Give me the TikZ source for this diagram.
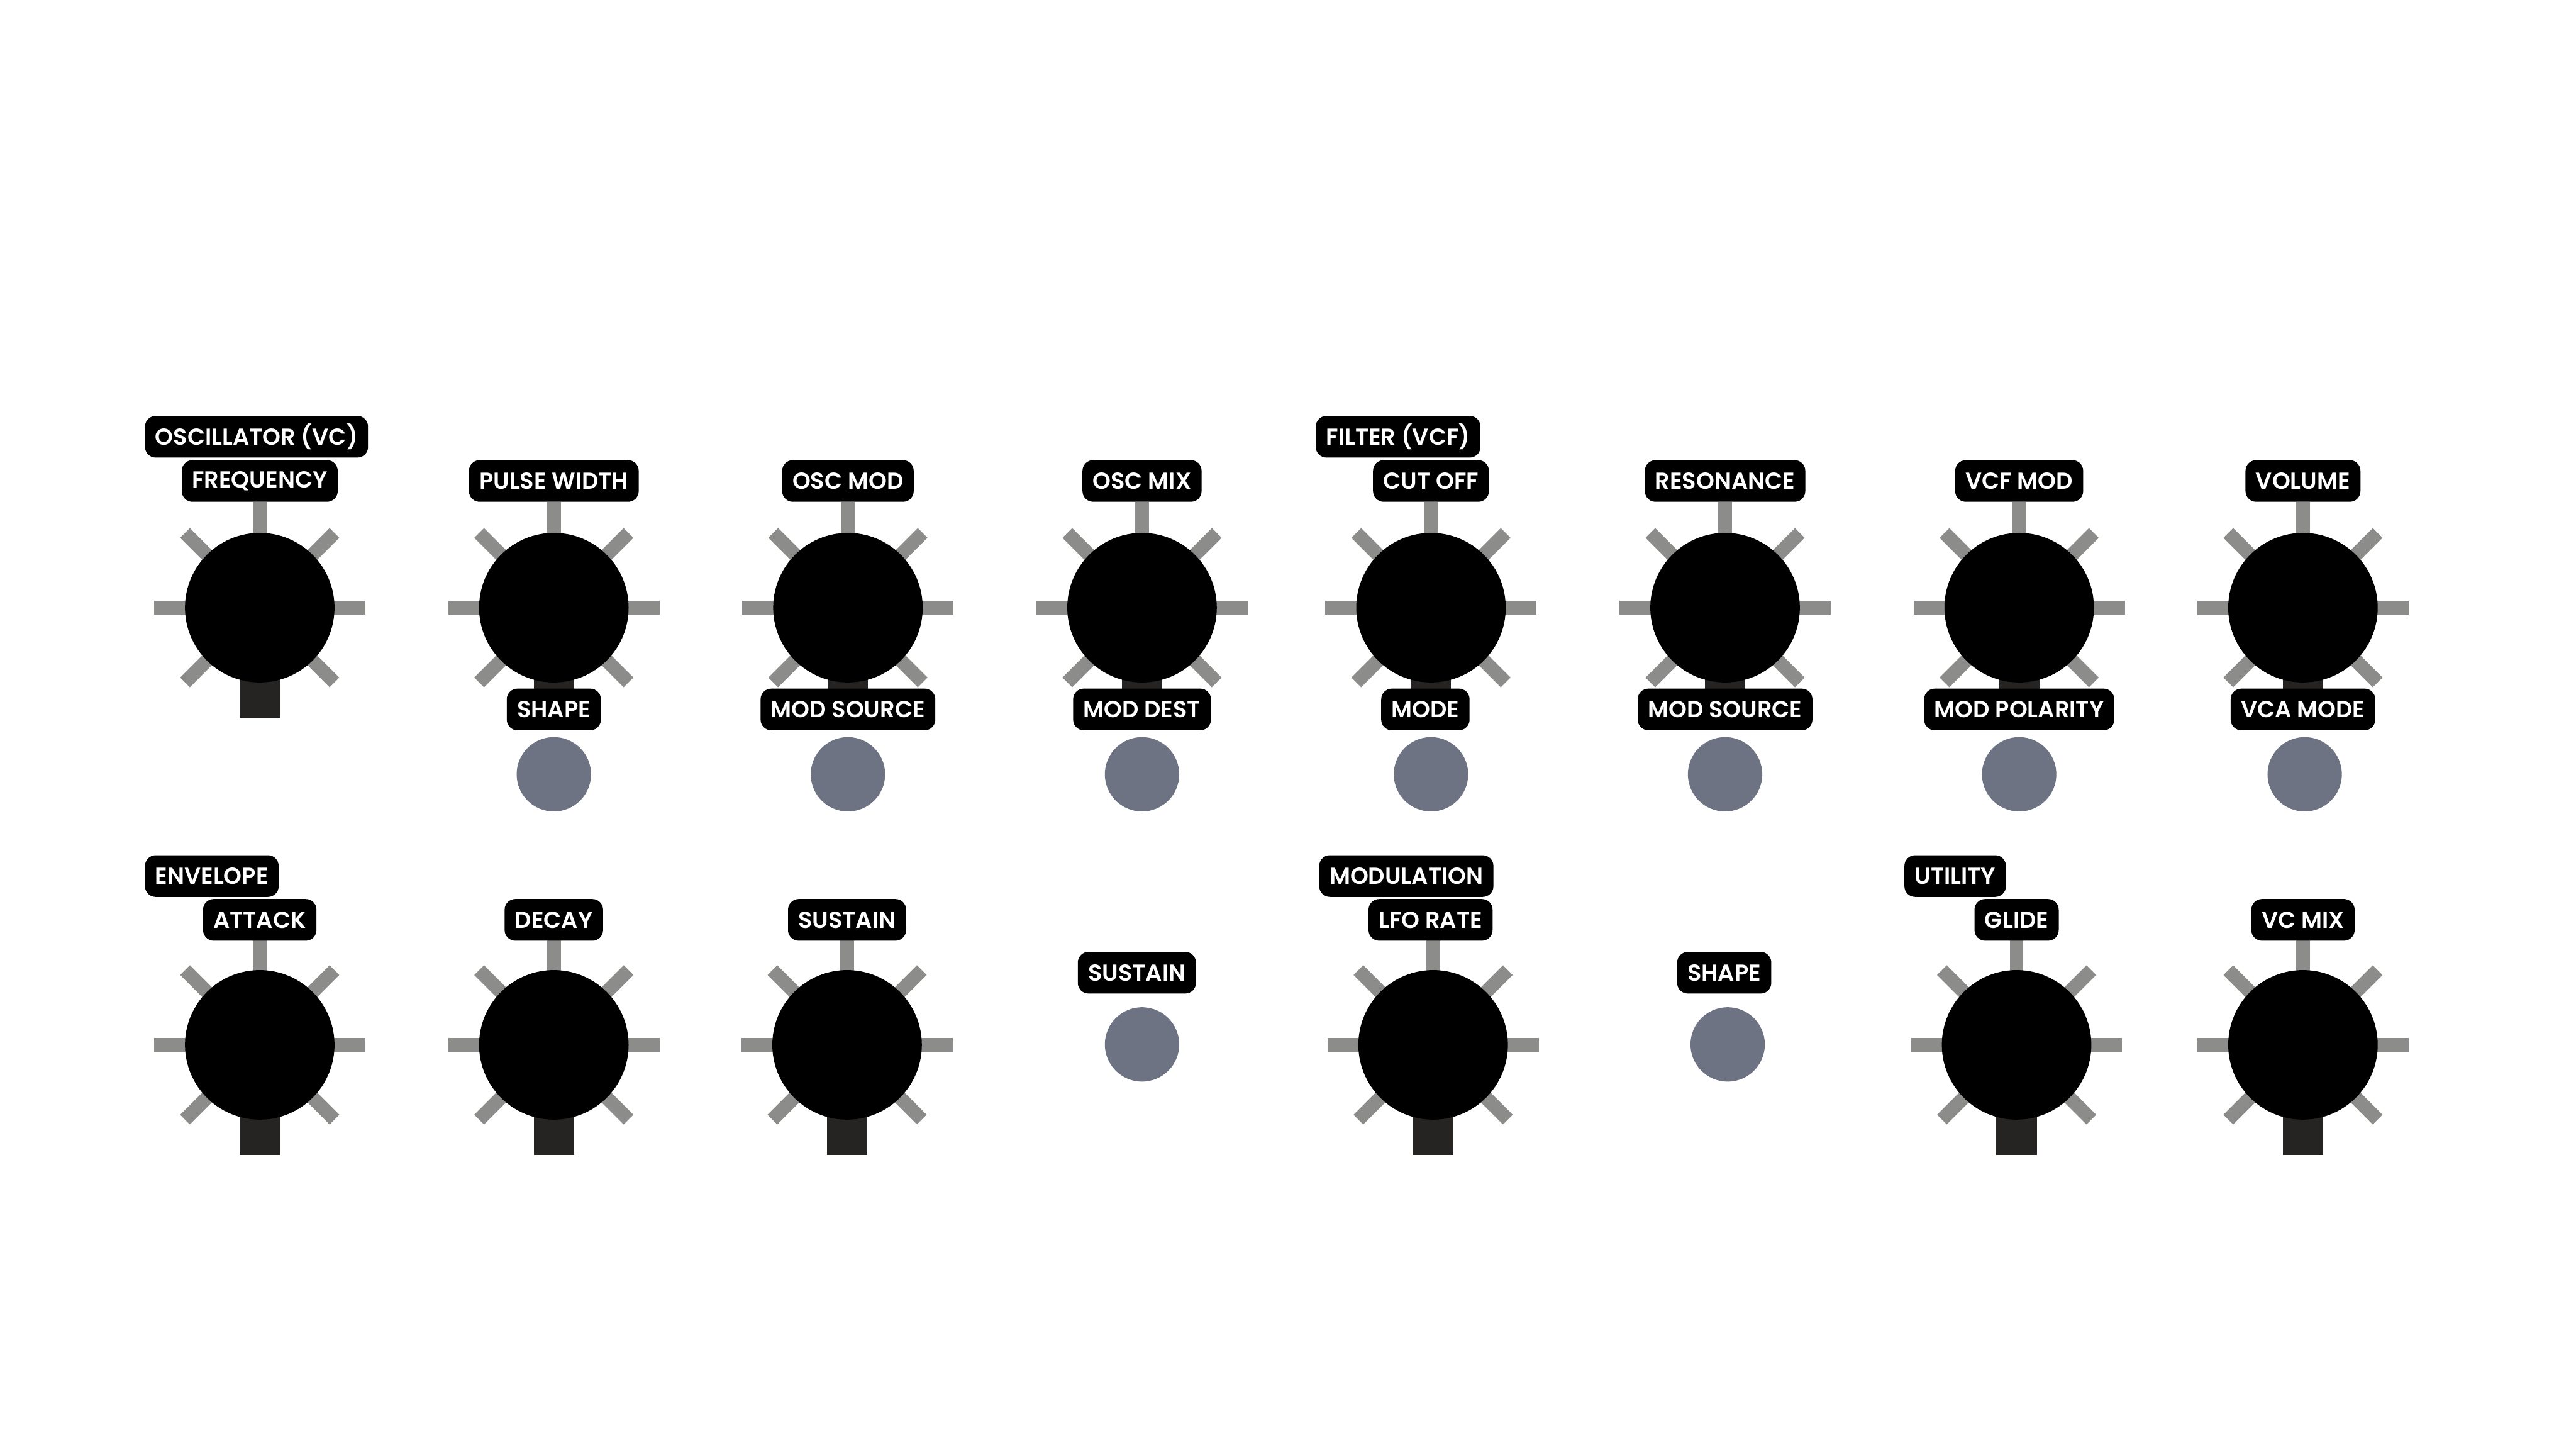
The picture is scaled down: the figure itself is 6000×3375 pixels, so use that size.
\documentclass[tikz,border=0pt]{standalone}
\usepackage{fontspec}
\IfFontExistsTF{Poppins SemiBold}{\newfontfamily\labfont{Poppins SemiBold}}{\newfontfamily\labfont{Poppins}[UprightFont=*-Bold]}
\definecolor{tickgray}{RGB}{140,140,138}
\definecolor{stemgray}{RGB}{38,36,34}
\definecolor{btngray}{RGB}{110,115,131}
\tikzset{
  lab/.style={fill=black, text=white, rounded corners=0.25cm, minimum height=0.97cm,
    inner xsep=0.24cm, inner ysep=0pt, font=\labfont\fontsize{15.3}{17}\selectfont},
  knobbody/.style={circle, fill=black, minimum size=3.48cm, inner sep=0pt},
  btn/.style={circle, fill=btngray, minimum size=1.73cm, inner sep=0pt},
  tickline/.style={draw=tickgray, line width=0.32cm}
}
\newcommand\knobdraw[3]{%
  \begin{scope}[shift={(#2,#3)}]
    \draw[tickline] (-246,0) -- (246,0);
    \draw[tickline] (0,0) -- (0,-246);
    \draw[tickline] (-174,-174) -- (174,174);
    \draw[tickline] (174,-174) -- (-174,174);
    \fill[stemgray] (-47,0) rectangle (47,256);
  \end{scope}
  \node[knobbody] (#1) at (#2,#3) {};}
\begin{document}
\begin{tikzpicture}[x=0.01cm, y=-0.01cm]
\useasboundingbox (0,0) rectangle (6000,3375);
\fill[white] (0,0) rectangle (6000,3375);
% ---------- row 1 ----------
\knobdraw{k1}{605}{1415}
\knobdraw{k2}{1290}{1415}
\knobdraw{k3}{1975}{1415}
\knobdraw{k4}{2660}{1415}
\knobdraw{k5}{3333}{1415}
\knobdraw{k6}{4018}{1415}
\knobdraw{k7}{4703}{1415}
\knobdraw{k8}{5364}{1415}
\node[lab, anchor=west] (g1) at (337,1017) {OSCILLATOR (VC)};
\node[lab, anchor=west] (g2) at (3064,1017) {FILTER (VCF)};
\node[lab] (t1) at (605,1120) {FREQUENCY};
\node[lab] (t2) at (1290,1120) {PULSE WIDTH};
\node[lab] (t3) at (1975,1120) {OSC MOD};
\node[lab] (t4) at (2660,1120) {OSC MIX};
\node[lab] (t5) at (3333,1120) {CUT OFF};
\node[lab] (t6) at (4018,1120) {RESONANCE};
\node[lab] (t7) at (4703,1120) {VCF MOD};
\node[lab] (t8) at (5364,1120) {VOLUME};
\node[lab] (s2) at (1290,1652) {SHAPE};
\node[lab] (s3) at (1975,1652) {MOD SOURCE};
\node[lab] (s4) at (2660,1652) {MOD DEST};
\node[lab] (s5) at (3320,1652) {MODE};
\node[lab] (s6) at (4018,1652) {MOD SOURCE};
\node[lab] (s7) at (4703,1652) {MOD POLARITY};
\node[lab] (s8) at (5364,1652) {VCA MODE};
\node[btn] (b2) at (1290,1803) {};
\node[btn] (b3) at (1975,1803) {};
\node[btn] (b4) at (2660,1803) {};
\node[btn] (b5) at (3333,1803) {};
\node[btn] (b6) at (4018,1803) {};
\node[btn] (b7) at (4703,1803) {};
\node[btn] (b8) at (5368,1803) {};
% ---------- row 2 ----------
\knobdraw{m1}{605}{2433}
\knobdraw{m2}{1290}{2433}
\knobdraw{m3}{1973}{2433}
\knobdraw{m5}{3338}{2433}
\knobdraw{m7}{4697}{2433}
\knobdraw{m8}{5364}{2433}
\node[lab, anchor=west] (h1) at (337,2040) {ENVELOPE};
\node[lab, anchor=west] (h2) at (3072,2040) {MODULATION};
\node[lab, anchor=west] (h3) at (4435,2040) {UTILITY};
\node[lab] (u1) at (605,2142) {ATTACK};
\node[lab] (u2) at (1290,2142) {DECAY};
\node[lab] (u3) at (1973,2142) {SUSTAIN};
\node[lab] (u5) at (3332,2142) {LFO RATE};
\node[lab] (u7) at (4697,2142) {GLIDE};
\node[lab] (u8) at (5364,2142) {VC MIX};
\node[lab] (u4) at (2648,2265) {SUSTAIN};
\node[btn] (c4) at (2660,2432) {};
\node[lab] (u6) at (4016,2265) {SHAPE};
\node[btn] (c6) at (4024,2432) {};
\end{tikzpicture}
\end{document}
